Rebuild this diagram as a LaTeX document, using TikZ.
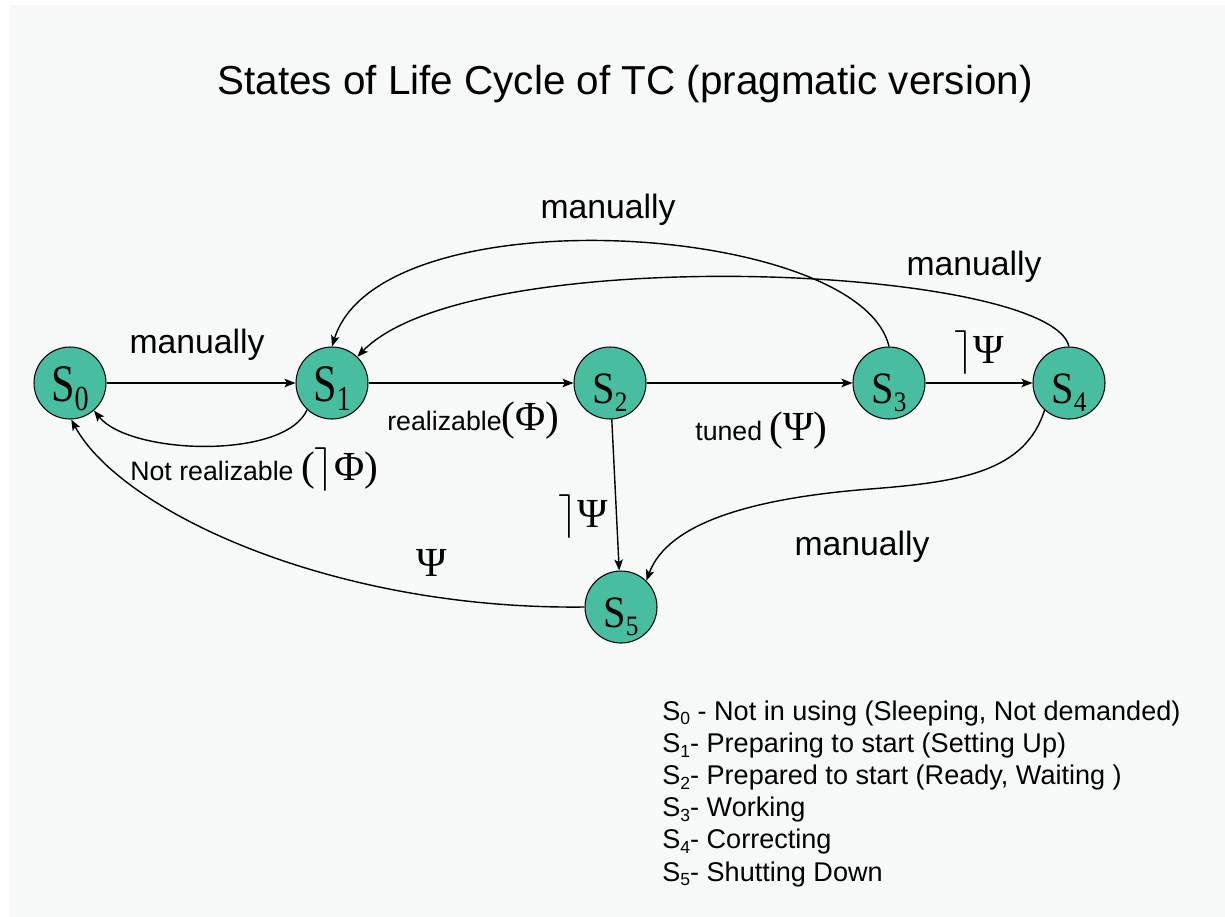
\documentclass[tikz,border=0pt]{standalone}
\usepackage{fontspec}
\usepackage{graphicx}
\setmainfont{Liberation Serif}
\newfontfamily\ari{Liberation Sans}
\newfontfamily\tms{Liberation Serif}
\usetikzlibrary{arrows.meta}
\definecolor{bgcol}{RGB}{247,249,249}
\definecolor{nodecol}{RGB}{72,190,160}
\newcommand\bigS[1]{\raisebox{-10.8pt}[0pt][0pt]{\scalebox{0.8}[1]{\tms\fontsize{30}{30}\selectfont S\raisebox{-5pt}{\fontsize{20}{20}\selectfont #1}}}}
\newcommand\smlS[1]{\raisebox{-11.5pt}[0pt][0pt]{\scalebox{0.9}[1]{\tms\fontsize{25.5}{25.5}\selectfont S\raisebox{-4.5pt}{\fontsize{16}{16}\selectfont #1}}}}
\newcommand\lsub[1]{\raisebox{-2.8pt}{\fontsize{10}{10}\selectfont #1}}
\newcommand\grk{\tms\fontsize{23.5}{28}\selectfont}
\newcommand\notsym{$\rceil$}
\tikzset{
  stnode/.style={circle, draw=black, line width=0.6pt, fill=nodecol, minimum size=1.44cm, inner sep=0pt},
  conn/.style={draw=black, line width=0.8pt, -{Stealth[length=0.22cm,width=0.17cm,inset=0.05cm]}},
  lblbig/.style={font=\ari\fontsize{19.2}{23}\selectfont, inner sep=0pt, anchor=base},
  lblsm/.style={font=\ari\fontsize{15.2}{18}\selectfont, inner sep=0pt, anchor=base west},
  grklbl/.style={font=\grk, inner sep=0pt},
  legline/.style={font=\ari\fontsize{15.4}{18}\selectfont, anchor=base west, inner sep=0pt},
  titlelbl/.style={font=\ari\fontsize{23}{28}\selectfont, inner sep=0pt, anchor=base}
}
\begin{document}
\begin{tikzpicture}[x=0.02cm,y=-0.02cm]
\path[use as bounding box, fill=white] (0,0) rectangle (1225,917);
\fill[bgcol] (9,5) rectangle (1225,917);

\node[titlelbl] (title) at (625,94) {States of Life Cycle of TC (pragmatic version)};

\node[stnode] (S0) at (70,383) {\bigS{0}};
\node[stnode] (S1) at (332,383) {\bigS{1}};
\node[stnode] (S2) at (610,383) {\smlS{2}};
\node[stnode] (S3) at (889,383) {\smlS{3}};
\node[stnode] (S4) at (1069,383) {\smlS{4}};
\node[stnode] (S5) at (621,607) {\smlS{5}};

\draw[conn] (S0) -- (S1);
\draw[conn] (S1) -- (S2);
\draw[conn] (S2) -- (S3);
\draw[conn] (S3) -- (S4);
\draw[conn] (S2) -- (S5);
\draw[conn] (S1.-133) .. controls (285,460) and (130,455) .. (S0.-49);
\draw[conn] (S5.180) .. controls (330,610) and (120,510) .. (S0.-88);
\draw[conn] (S3.north) .. controls (860,222) and (380,192) .. (S1.north);
\draw[conn] (S4.north) .. controls (1050,265) and (470,240) .. (S1.46);
\draw[conn] (S4.-132) .. controls (1025,472) and (960,482) .. (870,489) .. controls (755,498) and (668,522) .. (S5.46);

\node[lblbig] (m01) at (197,353) {manually};
\node[lblbig] (m31) at (608,218) {manually};
\node[lblbig] (m41) at (974,275) {manually};
\node[lblbig] (m45) at (862,555) {manually};
\node[lblsm] (l12) at (387,430) {realizable{\grk(Φ)}};
\node[lblsm] (l23) at (695,440) {tuned {\grk(Ψ)}};
\node[lblsm] (l10) at (130,480) {Not realizable {\grk(\notsym Φ)}};
\node[grklbl, anchor=base west] (l25) at (558,527) {\notsym Ψ};
\node[grklbl, anchor=base west] (l34) at (954,363) {\notsym Ψ};
\node[grklbl, anchor=base] (l50) at (432,576) {Ψ};

\node[legline] (L0) at (662,720) {S\lsub{0} - Not in using (Sleeping, Not demanded)};
\node[legline] (L1) at (662,752.2) {S\lsub{1}- Preparing to start (Setting Up)};
\node[legline] (L2) at (662,784.4) {S\lsub{2}- Prepared to start (Ready, Waiting )};
\node[legline] (L3) at (662,816.6) {S\lsub{3}- Working};
\node[legline] (L4) at (662,848.8) {S\lsub{4}- Correcting};
\node[legline] (L5) at (662,881) {S\lsub{5}- Shutting Down};
\end{tikzpicture}
\end{document}
